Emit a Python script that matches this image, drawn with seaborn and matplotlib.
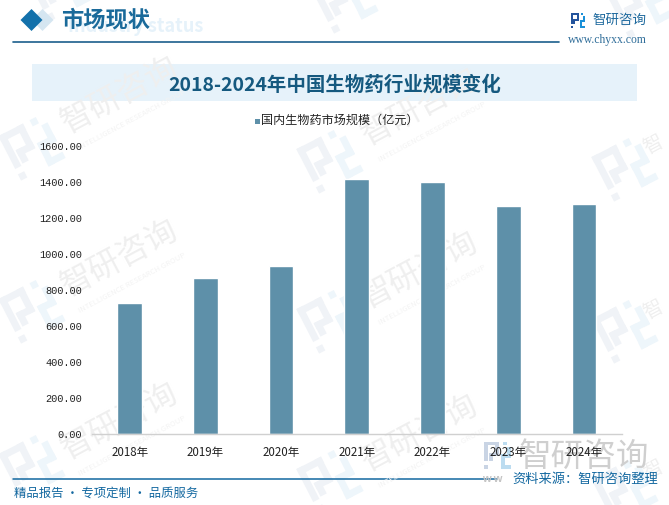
import pandas as pd
import matplotlib
matplotlib.use('Agg')
import matplotlib.pyplot as plt
import matplotlib.patches as mpatches
import seaborn as sns

years = ['2018年', '2019年', '2020年', '2021年', '2022年', '2023年', '2024年']
market_size = [724, 868, 930, 1415, 1398, 1265, 1275]
y_ticks = [0, 200, 400, 600, 800, 1000, 1200, 1400, 1600]
series_name = '国内生物药市场规模（亿元）'

W, H = 669, 505
sns.set_theme(style='white')
plt.rcParams['font.family'] = ['Noto Sans CJK SC', 'DejaVu Sans']

df = pd.DataFrame({'year': years, 'size': market_size})

fig = plt.figure(figsize=(W / 100, H / 100), dpi=100, facecolor='white')

# background layer in pixel coordinates
bg = fig.add_axes([0, 0, 1, 1], zorder=0)
bg.set_xlim(0, W)
bg.set_ylim(H, 0)
bg.axis('off')

left_blocks = [(0, 0, .55, .14), (.41, 0, .14, .55), (.18, .41, .37, .14), (.18, .41, .14, .3),
               (0, 0, .14, .74), (0, .86, .14, .14)]
right_blocks = [(.7, 0, .14, .14), (.86, .2, .14, .42), (.62, .48, .38, .14), (.62, .48, .14, .52),
                (.62, .86, .38, .14)]


def logo(ax, cx, cy, s, dark, light, angle=0):
    # block logo drawn around its centre, s = size in px
    tr = matplotlib.transforms.Affine2D().rotate_deg_around(cx, cy, angle) + ax.transData
    x, y = cx - s / 2, cy - s / 2
    for blocks, color in [(left_blocks, dark), (right_blocks, light)]:
        for bx, by, bw, bh in blocks:
            ax.add_patch(mpatches.Rectangle((x + bx * s, y + by * s), bw * s, bh * s, fc=color,
                                            ec='none', transform=tr))


# watermarks
wm_text = '#efefef'
marks = [(32, 147), (330, 160), (625, 168), (32, 310), (330, 320), (625, 330), (32, 465), (330, 480), (625, 490),
         (60, -12), (345, 0), (640, 5)]
for mx, my in marks:
    logo(bg, mx, my, 50, '#f0f3f7', '#eef6fb', angle=-27)
for tx, ty in [(120, 95), (420, 107), (120, 258), (420, 270), (120, 421), (420, 433)]:
    bg.text(tx, ty, '智研咨询', fontsize=23, color=wm_text, rotation=28, ha='center', va='center')
    bg.text(tx + 12, ty + 25, 'INTELLIGENCE RESEARCH GROUP', fontsize=5.5, color='#f3f3f3', rotation=28,
            ha='center', va='center')
for tx, ty in [(653, 145), (653, 310), (653, 470)]:
    bg.text(tx, ty, '智', fontsize=14, color=wm_text, rotation=28, ha='center', va='center')

# header
bg.add_patch(mpatches.RegularPolygon((42.5, 20), 4, radius=11, fc='#d5e6f1', ec='none'))
bg.add_patch(mpatches.RegularPolygon((31.5, 20), 4, radius=11, fc='#1371ab', ec='none'))
bg.text(203, 26, 'Industry status', fontsize=13, fontweight='bold', color='#e6f2fa', ha='right', va='center')
bg.text(61, 20.5, '市场现状', fontsize=16, fontweight='bold', color='#1a6a9a', ha='left', va='center')
bg.plot([13, 559], [41.5, 41.5], color='#1b5f8c', lw=1.2)
logo(bg, 578, 20.5, 14.5, '#24549c', '#1a90d8')
bg.text(592, 20, '智研咨询', fontsize=9.7, color='#1f6a9e', ha='left', va='center')
bg.text(568, 40, 'www.chyxx.com', fontsize=8.4, color='#2f6d99', ha='left', va='center',
        family=['Liberation Serif'])

# title band
bg.add_patch(mpatches.Rectangle((32, 64), 605, 37, fc='#e6f2fa', ec='none'))
bg.text(334.5, 84.5, '2018-2024年中国生物药行业规模变化', fontsize=14, fontweight='bold', color='#15597f',
        ha='center', va='center')

# legend
bg.add_patch(mpatches.Rectangle((255, 119), 5, 5, fc='#5e90a9', ec='none'))
bg.text(261, 120.5, series_name, fontsize=8.7, color='#222222', ha='left', va='center')

# footer
bg.plot([13, 497], [478.5, 478.5], color='#1368a0', lw=1.1)
bg.text(14, 493, '精品报告 · 专项定制 · 品质服务', fontsize=8.9, color='#1368a0', ha='left', va='center')
logo(bg, 497.5, 455, 27, '#c9d4e4', '#bcdcf0')
bg.text(519, 457, '智研咨询', fontsize=23.5, color='#cfcfcf', ha='left', va='center')
bg.text(482, 479.5, 'w w', fontsize=8, fontweight='bold', color='#c4c4c4', ha='left', va='center',
        family=['Liberation Sans'])
bg.text(512, 479, '资料来源：智研咨询整理', fontsize=9.5, color='#1368a0', ha='left', va='center')

# chart
ax = fig.add_axes([91.8 / W, 1 - 433.5 / H, (621.8 - 91.8) / W, (433.5 - 146) / H], zorder=1)
ax.patch.set_alpha(0)
sns.barplot(data=df, x='year', y='size', color='#5e90a9', saturation=1, width=0.325, ax=ax)
ax.set_ylim(0, 1600)
ax.set_xlim(-0.5, 6.5)
ax.set_yticks(y_ticks)
ax.set_yticklabels([f'{v:.2f}' for v in y_ticks], family='Liberation Mono', fontsize=7.4, color='#222222')
ax.tick_params(axis='x', length=0, pad=9, labelsize=8.3, labelcolor='#222222')
ax.tick_params(axis='y', length=0, pad=7)
ax.set_xlabel('')
ax.set_ylabel('')
for side in ['top', 'left', 'right']:
    ax.spines[side].set_visible(False)
ax.spines['bottom'].set_color('#d0d0d0')
ax.spines['bottom'].set_linewidth(1)

fig.savefig('out.png', dpi=100)
